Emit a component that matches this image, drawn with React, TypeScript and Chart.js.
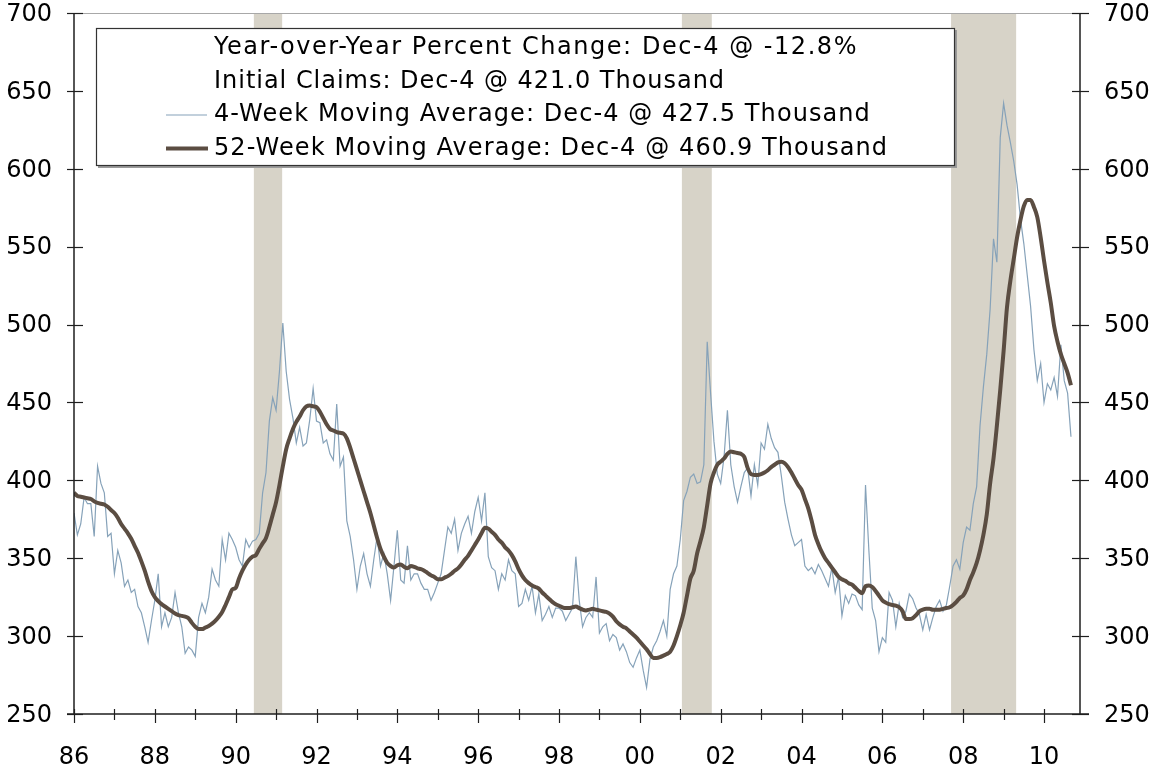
import React, { useEffect, useRef } from "react";
import { Chart, registerables } from "chart.js";

Chart.register(...registerables);

// ---------------- DATA ----------------
const START_YEAR = 1986;

// 4-Week Moving Average, thousands (monthly readings, Jan 1986 onward)
const MA4: number[] = [
  379, 365, 372, 389, 385, 385, 364, 409, 398, 392, 364, 366, // 1986
  340, 355, 347, 332, 336, 328, 330, 319, 315, 306, 296, 310, // 1987
  323, 340, 306, 315, 306, 312, 328, 315, 306, 289, 293, 291, // 1988
  287, 312, 321, 315, 325, 343, 336, 332, 362, 349, 366, 362, // 1989
  357, 349, 345, 362, 357, 361, 362, 366, 392, 405, 438, 453, // 1990
  445, 470, 501, 470, 452, 440, 424, 434, 422, 424, 439, 459, // 1991
  438, 437, 424, 426, 417, 413, 449, 409, 415, 374, 364, 349, // 1992
  330, 345, 353, 340, 332, 349, 364, 345, 353, 340, 323, 345, // 1993
  368, 336, 334, 358, 336, 340, 340, 334, 330, 330, 323, 328, // 1994
  334, 340, 355, 370, 366, 375, 355, 366, 372, 377, 366, 380, // 1995
  389, 374, 392, 351, 344, 342, 330, 340, 336, 349, 342, 340, // 1996
  319, 321, 330, 323, 332, 315, 327, 310, 314, 319, 312, 318, // 1997
  318, 316, 310, 314, 318, 351, 323, 306, 312, 315, 312, 338, // 1998
  302, 306, 308, 297, 301, 299, 291, 295, 290, 283, 280, 286, // 1999
  291, 278, 267, 285, 293, 297, 303, 310, 300, 330, 340, 345, // 2000
  362, 387, 393, 402, 404, 398, 399, 410, 489, 456, 425, 404, // 2001
  398, 415, 445, 410, 396, 386, 396, 405, 408, 390, 410, 397, // 2002
  424, 420, 436, 427, 421, 418, 403, 386, 375, 365, 358, 360, // 2003
  362, 345, 342, 344, 340, 346, 342, 337, 332, 344, 328, 338, // 2004
  313, 326, 321, 327, 326, 320, 317, 397, 355, 318, 310, 290, // 2005
  299, 296, 328, 323, 306, 321, 312, 316, 327, 324, 318, 314, // 2006
  304, 314, 304, 312, 319, 323, 316, 320, 332, 345, 349, 343, // 2007
  360, 370, 368, 385, 396, 435, 460, 481, 510, 555, 540, 620, // 2008
  642, 628, 617, 605, 590, 568, 552, 532, 512, 484, 464, 475, // 2009
  450, 462, 458, 466, 454, 487, 464, 456, 428,                // 2010
];

// 52-Week Moving Average, thousands (same dates)
const MA52: number[] = [
  392, 390, 389.5, 389, 388.5, 388, 386.5, 385.5, 385, 384.5, 383, 381, // 1986
  379, 376, 372, 369, 366, 362.5, 358, 353.5, 348, 342, 335, 329, // 1987
  325, 322.5, 320.5, 319, 317.5, 316, 314.5, 313.5, 313, 312.5, 311.5, 308.5, // 1988
  306, 304.5, 304.5, 305.5, 306.5, 308, 310, 312.5, 315.5, 320, 325, 330, // 1989
  331, 337, 342, 346, 349, 351, 352, 356, 359.5, 363, 370, 378, // 1990
  386, 397, 409, 420, 427, 433, 437.5, 441, 445, 447.5, 448, 447.5, // 1991
  447, 444, 440, 436, 433, 432, 431, 430.5, 430, 427, 421, 414, // 1992
  407, 400, 393, 386, 379, 371, 363, 356, 351, 347, 345, 344, // 1993
  345.5, 346, 344.5, 343.5, 345, 344.5, 343.5, 343, 342, 340.5, 339, 338, // 1994
  336.5, 336.5, 337.5, 338.5, 340, 342, 343.5, 346, 349, 351.5, 355, 358.5, // 1995
  362, 366, 369.5, 369, 367, 365, 362, 360, 357, 355, 352, 348, // 1996
  343, 339, 336, 334, 332.5, 331.5, 330.5, 328, 326, 324, 322, 320.5, // 1997
  319.5, 318.5, 318, 318, 318.5, 319, 318, 317, 316.5, 317, 317.5, 317, // 1998
  316.5, 316, 315.5, 314.5, 312.5, 309.5, 307.5, 306, 305, 303, 301, 299, // 1999
  296.5, 294, 291.5, 288.5, 286, 286, 286.5, 287.5, 288.5, 290, 294, 300, // 2000
  307, 315, 326, 337, 342, 353, 361, 370, 384, 398, 405, 410, // 2001
  412, 414, 417, 418.5, 418, 417.5, 417, 415, 408, 404, 403.5, 403.5, // 2002
  404, 405, 406.5, 408.5, 410, 411.5, 412, 411, 408.5, 405, 401, 397, // 2003
  394, 388, 382, 374, 365, 359, 354, 350, 347, 344, 341, 338, // 2004
  336.5, 335.5, 334, 333, 331, 329, 327.5, 332, 332.5, 331.5, 329, 326, // 2005
  323, 321.5, 320.5, 320, 319.5, 318.5, 316, 311, 311, 311.5, 313.5, 316, // 2006
  317, 317.5, 317.5, 317, 317, 317, 317.5, 318, 318.5, 320, 322, 324.5, // 2007
  326, 330, 336, 341, 347, 355, 365, 378, 398, 414, 435, 458, // 2008
  483, 511, 528, 542, 556, 567, 576, 580, 580, 575.5, 569, 556, // 2009
  541, 527, 514, 499, 489, 481, 475, 469, 461,                // 2010
];

// dates (decimal years on the chart's axis), one per reading
const DATES: number[] = MA4.map((_, i) => START_YEAR + i / 12);

// recession periods (shaded), decimal years
const RECESSION_START: number[] = [1990.45, 2001.04, 2007.7];
const RECESSION_END: number[] = [1991.15, 2001.78, 2009.31];

const LEGEND_LABELS: string[] = [
  "Year-over-Year Percent Change: Dec-4 @ -12.8%",
  "Initial Claims: Dec-4 @ 421.0 Thousand",
  "4-Week Moving Average: Dec-4 @ 427.5 Thousand",
  "52-Week Moving Average: Dec-4 @ 460.9 Thousand",
];

const X_MIN = 1986;
const X_MAX = 2010.89;
const Y_MIN = 250;
const Y_MAX = 700;
const Y_STEP = 50;

// ---------------- STYLE ----------------
const FONT = '"DejaVu Sans", Verdana, sans-serif';
const BLUE = "#86a2b9";
const BROWN = "#5b4d42";
const BAND = "#d7d3c8";
const AXIS = "#1e1e1e";

const LEGEND_BOX = { left: 96, top: 28, right: 955, bottom: 166 };
const LEGEND_ROWS = [48, 81.5, 115, 148.5];
const LEGEND_TEXT_X = 214;
const LEGEND_TEXT_WIDTHS = [644, 511, 657, 674];
const LEGEND_LINE = { x0: 166, x1: 207 };

const recessionPlugin = {
  id: "recessionBands",
  beforeDatasetsDraw(chart: any) {
    const { ctx, chartArea, scales } = chart;
    const xs = scales.x;
    ctx.save();
    ctx.fillStyle = BAND;
    RECESSION_START.forEach((s, i) => {
      const x0 = xs.getPixelForValue(s);
      const x1 = xs.getPixelForValue(RECESSION_END[i]);
      ctx.fillRect(x0, chartArea.top, x1 - x0, chartArea.bottom - chartArea.top);
    });
    ctx.restore();
  },
};

const axesPlugin = {
  id: "crossAxes",
  afterDatasetsDraw(chart: any) {
    const { ctx, chartArea: a, scales } = chart;
    const xs = scales.x;
    const ys = scales.y;
    const line = (x0: number, y0: number, x1: number, y1: number) => {
      ctx.beginPath();
      ctx.moveTo(x0, y0);
      ctx.lineTo(x1, y1);
      ctx.stroke();
    };
    ctx.save();
    ctx.strokeStyle = "#a8a8a8";
    ctx.lineWidth = 1;
    line(a.left, a.top + 0.5, a.right, a.top + 0.5);

    ctx.strokeStyle = AXIS;
    ctx.lineWidth = 1.5;
    line(a.left, a.top, a.left, a.bottom);
    line(a.right, a.top, a.right, a.bottom);
    line(a.left - 7, a.bottom, a.right + 9, a.bottom);

    ctx.lineWidth = 1.2;
    for (let v = Y_MIN; v <= Y_MAX; v += Y_STEP) {
      const py = Math.round(ys.getPixelForValue(v)) + 0.5;
      line(a.left - 7, py, a.left + 9, py);
      line(a.right - 8, py, a.right + 9, py);
    }
    for (let yr = Math.ceil(X_MIN); yr <= X_MAX; yr++) {
      const px = Math.round(xs.getPixelForValue(yr)) + 0.5;
      const down = yr % 2 === 0 ? 9 : 6;
      line(px, a.bottom - 5, px, a.bottom + down);
    }
    ctx.restore();
  },
};

const legendPlugin = {
  id: "boxedLegend",
  afterDraw(chart: any) {
    const { ctx } = chart;
    const b = LEGEND_BOX;
    ctx.save();
    ctx.fillStyle = "#9a9a9a";
    ctx.fillRect(b.left + 2, b.top + 2, b.right - b.left, b.bottom - b.top);
    ctx.fillStyle = "#ffffff";
    ctx.fillRect(b.left, b.top, b.right - b.left, b.bottom - b.top);
    ctx.strokeStyle = "#333333";
    ctx.lineWidth = 1.2;
    ctx.strokeRect(b.left + 0.5, b.top + 0.5, b.right - b.left - 1, b.bottom - b.top - 1);

    ctx.strokeStyle = BLUE;
    ctx.lineWidth = 1.2;
    ctx.beginPath();
    ctx.moveTo(LEGEND_LINE.x0, LEGEND_ROWS[2]);
    ctx.lineTo(LEGEND_LINE.x1, LEGEND_ROWS[2]);
    ctx.stroke();
    ctx.strokeStyle = BROWN;
    ctx.lineWidth = 4;
    ctx.beginPath();
    ctx.moveTo(LEGEND_LINE.x0, LEGEND_ROWS[3]);
    ctx.lineTo(LEGEND_LINE.x1 + 1, LEGEND_ROWS[3]);
    ctx.stroke();

    ctx.fillStyle = "#000000";
    ctx.font = `24px ${FONT}`;
    ctx.textAlign = "left";
    ctx.textBaseline = "middle";
    LEGEND_LABELS.forEach((t, i) => {
      (ctx as any).letterSpacing = "0px";
      const w = ctx.measureText(t).width;
      const sp = Math.max(0, (LEGEND_TEXT_WIDTHS[i] - w) / t.length);
      (ctx as any).letterSpacing = `${sp.toFixed(2)}px`;
      ctx.fillText(t, LEGEND_TEXT_X, LEGEND_ROWS[i]);
    });
    ctx.restore();
  },
};

const noPad = (s: any) => {
  s.paddingTop = 0;
  s.paddingBottom = 0;
};

export default function App() {
  const canvasRef = useRef<HTMLCanvasElement | null>(null);

  useEffect(() => {
    if (!canvasRef.current) return;
    const tickFont = { family: FONT, size: 24, lineHeight: 1 };
    const hiddenGrid = { display: false, drawTicks: false, tickLength: 0 };
    const chart = new Chart(canvasRef.current, {
      type: "line",
      data: {
        datasets: [
          {
            label: LEGEND_LABELS[3],
            data: DATES.map((d, i) => ({ x: d, y: MA52[i] })),
            borderColor: BROWN,
            borderWidth: 4,
            pointRadius: 0,
            cubicInterpolationMode: "monotone",
            fill: false,
            order: 0,
          },
          {
            label: LEGEND_LABELS[2],
            data: DATES.map((d, i) => ({ x: d, y: MA4[i] })),
            borderColor: BLUE,
            borderWidth: 1.2,
            pointRadius: 0,
            tension: 0,
            fill: false,
            order: 1,
          },
        ],
      },
      options: {
        animation: false,
        responsive: true,
        maintainAspectRatio: false,
        layout: { padding: { top: 13, left: 0, right: 0, bottom: 0 } },
        plugins: {
          legend: { display: false },
          tooltip: { enabled: false },
          title: { display: false },
        },
        scales: {
          x: {
            type: "linear",
            position: "bottom",
            min: X_MIN,
            max: X_MAX,
            grid: hiddenGrid,
            border: { display: false },
            ticks: {
              stepSize: 2,
              includeBounds: false,
              autoSkip: false,
              maxRotation: 0,
              padding: 29,
              color: "#000",
              font: { family: FONT, size: 24 },
              callback: (v: any) => String(Math.round(Number(v)) % 100).padStart(2, "0"),
            },
            afterFit: (s: any) => {
              s.height = 58;
              s.paddingLeft = 0;
              s.paddingRight = 0;
            },
          },
          y: {
            position: "left",
            min: Y_MIN,
            max: Y_MAX,
            grid: hiddenGrid,
            border: { display: false },
            ticks: { stepSize: Y_STEP, padding: 22, labelOffset: 1.5, color: "#000", font: tickFont },
            afterFit: (s: any) => {
              s.width = 74;
              noPad(s);
            },
          },
          y2: {
            position: "right",
            min: Y_MIN,
            max: Y_MAX,
            grid: hiddenGrid,
            border: { display: false },
            ticks: { stepSize: Y_STEP, padding: 24, labelOffset: 1.5, color: "#000", font: tickFont },
            afterFit: (s: any) => {
              s.width = 73;
              noPad(s);
            },
          },
        },
      },
      plugins: [recessionPlugin, axesPlugin, legendPlugin],
    } as any);
    return () => chart.destroy();
  }, []);

  return (
    <div
      style={{
        position: "fixed",
        left: 0,
        top: 0,
        width: 1153,
        height: 772,
        background: "#fff",
      }}
    >
      <canvas ref={canvasRef} />
    </div>
  );
}
